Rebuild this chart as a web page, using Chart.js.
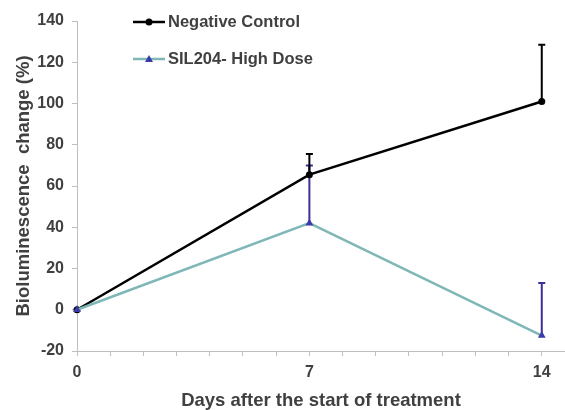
<!DOCTYPE html>
<html>
<head>
<meta charset="utf-8">
<script src="https://cdn.jsdelivr.net/npm/chart.js@4"></script>
<style>
html,body{margin:0;padding:0;background:#fff;}
#wrap{width:565px;height:410px;position:relative;}
</style>
</head>
<body>
<div id="wrap"><canvas id="c" width="565" height="410"></canvas></div>
<script>
const days = [0, 7, 14];
const xTickLabels = [0, 7, 14];
const yTicks = [-20, 0, 20, 40, 60, 80, 100, 120, 140];
const seriesNames = ['Negative Control', 'SIL204- High Dose'];
const negControl = [0, 65.5, 101];
const negControlErrUpper = [0, 75.5, 128.5];
const sil204 = [0, 42, -12.5];
const sil204ErrUpper = [0, 70, 13];

const textColor = '#404040';
const axisColor = '#bfbfbf';
const font = 'Liberation Sans, Arial, sans-serif';

function pts(vals){ return days.map((d,i)=>({x:d, y:vals[i]})); }

const errorBars = {
  id: 'errorBars',
  beforeDatasetsDraw(chart){
    const ctx = chart.ctx;
    const xs = chart.scales.x, ys = chart.scales.y;
    chart.data.datasets.forEach(ds => {
      const up = ds.errUpper;
      ctx.save();
      ctx.strokeStyle = ds.errColor;
      ctx.lineWidth = 2;
      days.forEach((d,i) => {
        if (up[i] === ds.data[i].y) return;
        const px = xs.getPixelForValue(d);
        const p0 = ys.getPixelForValue(ds.data[i].y);
        const p1 = ys.getPixelForValue(up[i]);
        ctx.beginPath();
        ctx.moveTo(px, p0); ctx.lineTo(px, p1);
        ctx.moveTo(px-3.5, p1); ctx.lineTo(px+3.5, p1);
        ctx.stroke();
      });
      ctx.restore();
    });
  }
};

const customLegend = {
  id: 'customLegend',
  afterDraw(chart){
    const ctx = chart.ctx;
    const rows = [22, 59];
    chart.data.datasets.slice().sort((a,b)=>a.legendIndex-b.legendIndex).forEach((ds, k) => {
      const y = rows[k];
      ctx.save();
      ctx.strokeStyle = ds.borderColor;
      ctx.lineWidth = 2.5;
      ctx.beginPath(); ctx.moveTo(133, y); ctx.lineTo(165, y); ctx.stroke();
      ctx.fillStyle = ds.pointBackgroundColor;
      if (ds.pointStyle === 'triangle') {
        ctx.beginPath(); ctx.moveTo(149, y-4); ctx.lineTo(153, y+3); ctx.lineTo(145, y+3); ctx.closePath(); ctx.fill();
      } else {
        ctx.beginPath(); ctx.arc(149, y, 3.5, 0, Math.PI*2); ctx.fill();
      }
      ctx.fillStyle = textColor;
      ctx.font = 'bold 16.5px ' + font;
      ctx.textBaseline = 'middle';
      ctx.textAlign = 'left';
      ctx.fillText(ds.label, 168, y);
      ctx.restore();
    });
  }
};

new Chart(document.getElementById('c'), {
  type: 'scatter',
  data: {
    datasets: [
      {
        label: seriesNames[1], data: pts(sil204), errUpper: sil204ErrUpper, legendIndex: 1,
        showLine: true, borderColor: '#7fb7b7', borderWidth: 2.5,
        pointStyle: 'triangle', pointRadius: 4.5, pointBackgroundColor: '#3a3aa8', pointBorderColor: '#3a3aa8', pointBorderWidth: 0,
        errColor: '#3b2f9a', order: 0, clip: false
      },
      {
        label: seriesNames[0], data: pts(negControl), errUpper: negControlErrUpper, legendIndex: 0,
        showLine: true, borderColor: '#000000', borderWidth: 2.5,
        pointStyle: 'circle', pointRadius: 3.5, pointBackgroundColor: '#000000', pointBorderColor: '#000000', pointBorderWidth: 0,
        errColor: '#000000', order: 1, clip: false
      }
    ]
  },
  options: {
    responsive: false, animation: false,
    layout: { autoPadding: false, padding: { top: 21, left: 0, right: 0, bottom: 0 } },
    plugins: { legend: { display: false }, tooltip: { enabled: false } },
    scales: {
      x: {
        type: 'linear', min: 0, max: 14.7,
        afterBuildTicks(s){ s.ticks = Array.from({length: 15}, (_, i) => ({value: i})); },
        afterFit(s){ s.height = 59; s.paddingLeft = 0; s.paddingRight = 0; },
        ticks: {
          autoSkip: false, maxRotation: 0, padding: 7, color: textColor,
          font: { family: font, size: 16, weight: 'bold' },
          callback: v => xTickLabels.includes(v) ? String(v) : ''
        },
        grid: { drawOnChartArea: false, drawTicks: true, tickLength: 5, color: axisColor },
        border: { color: axisColor, width: 1 },
        title: { display: true, text: 'Days after the start of treatment', color: textColor,
          font: { family: font, size: 18.5, weight: 'bold' }, padding: { top: 0, bottom: -2 } }
      },
      y: {
        min: -20, max: 140,
        afterBuildTicks(s){ s.ticks = yTicks.map(v => ({value: v})); },
        afterFit(s){ s.width = 77; },
        ticks: { padding: 8, color: textColor, font: { family: font, size: 16, weight: 'bold' } },
        grid: { drawOnChartArea: false, drawTicks: true, tickLength: 5, color: axisColor },
        border: { color: axisColor, width: 1 },
        title: { display: true, text: 'Bioluminescence  change (%)', color: textColor,
          font: { family: font, size: 18.5, weight: 'bold' }, padding: { top: 13, bottom: 0 } }
      }
    }
  },
  plugins: [errorBars, customLegend]
});
</script>
</body>
</html>
